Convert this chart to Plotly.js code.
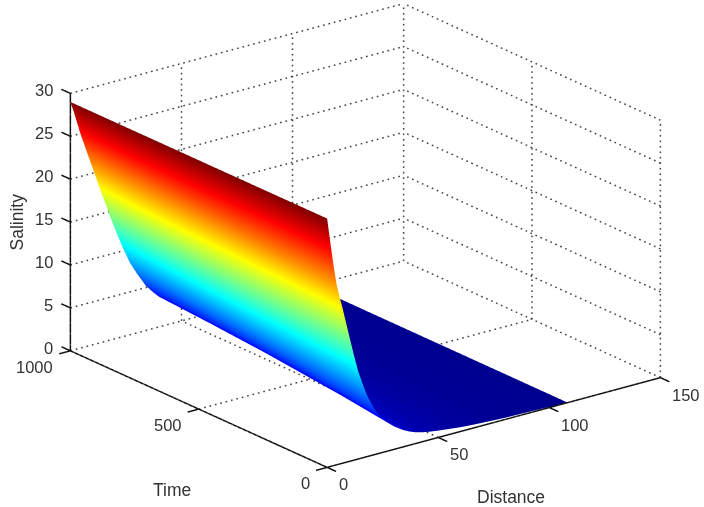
<!DOCTYPE html>
<html>
<head>
<meta charset="utf-8">
<script src="https://cdn.plot.ly/plotly-3.0.1.min.js"></script>
<style>html,body{margin:0;padding:0;background:#fff}#chart{width:704px;height:507px}</style>
</head>
<body>
<div id="chart"></div>
<script>
const distance = [0,1.5,3,4.5,7,9,12,14,16,18,21.5,24,27,30,34,37,40,43,46,50,55,60,65,72,80,108];
const time = [0,250,500,750,1000];
const salinity_t0    = [29,26,23.1,20.7,18,15.7,12.3,10.2,8.6,7.1,5.2,4.2,3.4,2.7,2.0,1.6,1.3,1.1,0.95,0.8,0.65,0.5,0.4,0.3,0.2,0.05];
const salinity_t250  = [29,26.5,24,21.8,19.3,17.1,13.9,12.0,10.4,8.9,6.8,5.6,4.6,3.7,2.8,2.3,1.85,1.55,1.3,1.1,0.85,0.65,0.5,0.36,0.22,0.06];
const salinity_t500  = [29,26.9,24.8,22.9,20.5,18.5,15.5,13.8,12.2,10.6,8.4,7.1,5.8,4.7,3.6,3.0,2.4,2.0,1.7,1.4,1.05,0.8,0.6,0.42,0.25,0.07];
const salinity_t750  = [29,27.4,25.6,24,21.7,19.9,17.1,15.6,14,12.4,10,8.6,7,5.8,4.4,3.6,3,2.5,2.1,1.75,1.25,0.95,0.7,0.48,0.28,0.08];
const salinity_t1000 = [29,27.8,26.4,25,23,21.4,19,17.4,15.9,14.3,11.8,10.1,8.3,6.9,5.2,4.3,3.5,3.0,2.6,2.1,1.5,1.15,0.85,0.55,0.3,0.1];
const distanceTicks = [0,50,100,150];
const timeTicks = [0,500,1000];
const salinityTicks = [0,5,10,15,20,25,30];
const jet = [[0,'rgb(0,0,143)'],[0.125,'rgb(0,0,255)'],[0.375,'rgb(0,255,255)'],[0.625,'rgb(255,255,0)'],[0.875,'rgb(255,0,0)'],[1,'rgb(128,0,0)']];

const dMax = distanceTicks[distanceTicks.length-1], tMax = timeTicks[timeTicks.length-1], zMax = salinityTicks[salinityTicks.length-1];
function segs(list){
  const x=[],y=[],z=[];
  list.forEach(s=>{x.push(s[0],s[3],null);y.push(s[1],s[4],null);z.push(s[2],s[5],null);});
  return {x,y,z};
}
function dotted(s,n){
  const out=[];
  for(let i=0;i<n;i++){
    const a=i/n,b=(i+0.3)/n;
    out.push([s[0]+(s[3]-s[0])*a,s[1]+(s[4]-s[1])*a,s[2]+(s[5]-s[2])*a,s[0]+(s[3]-s[0])*b,s[1]+(s[4]-s[1])*b,s[2]+(s[5]-s[2])*b]);
  }
  return out;
}
let grid=[];
const add=(s,n)=>{grid=grid.concat(dotted(s,n));};
distanceTicks.forEach(d=>{add([d,0,0,d,tMax,0],52);add([d,tMax,0,d,tMax,zMax],47);});
timeTicks.forEach(t=>{add([0,t,0,dMax,t,0],62);add([dMax,t,0,dMax,t,zMax],47);});
salinityTicks.forEach(s=>{add([0,tMax,s,dMax,tMax,s],62);add([dMax,0,s,dMax,tMax,s],52);});
const axesSegs=[[0,tMax,0,0,tMax,zMax],[0,0,0,0,tMax,0],[0,0,0,dMax,0,0]];
distanceTicks.forEach(d=>axesSegs.push([d,0,0,d,-35,0]));
timeTicks.forEach(t=>axesSegs.push([0,t,0,-5,t,0]));
salinityTicks.forEach(s=>axesSegs.push([0,tMax,s,0,tMax+35,s]));

const traces=[
  Object.assign({type:'scatter3d',mode:'lines',line:{color:'#444',width:3},hoverinfo:'skip',showlegend:false},segs(grid)),
  Object.assign({type:'scatter3d',mode:'lines',line:{color:'#111',width:3},hoverinfo:'skip',showlegend:false},segs(axesSegs)),
  {type:'surface',x:distance,y:time,z:[salinity_t0,salinity_t250,salinity_t500,salinity_t750,salinity_t1000],
   colorscale:jet,cmin:0,cmax:29,showscale:false,hoverinfo:'skip',
   lighting:{ambient:1,diffuse:0,specular:0,roughness:1,fresnel:0}}
];
const font={family:'"Liberation Sans",Arial,sans-serif',size:16.5,color:'#333'};
const titleFont={family:'"Liberation Sans",Arial,sans-serif',size:17.5,color:'#333'};
const ann=[];
salinityTicks.forEach(s=>ann.push({x:0,y:tMax,z:s,text:String(s),showarrow:false,xanchor:'right',xshift:-15,yshift:3,font}));
timeTicks.forEach(t=>ann.push({x:0,y:t,z:0,text:String(t),showarrow:false,xanchor:'right',xshift:-15,yshift:-16,font}));
distanceTicks.forEach(d=>ann.push({x:d,y:0,z:0,text:String(d),showarrow:false,xanchor:'left',xshift:10,yshift:-17,font}));
ann.push({x:0,y:tMax,z:zMax/2,text:'Salinity',showarrow:false,textangle:-90,xshift:-53,yshift:0,font:titleFont});
ann.push({x:0,y:tMax/2,z:0,text:'Time',showarrow:false,xshift:-27,yshift:-81,font:titleFont});
ann.push({x:dMax/2,y:0,z:0,text:'Distance',showarrow:false,xshift:17,yshift:-74,font:titleFont});

const axis=(range,tickvals)=>({range,tickvals,showgrid:false,zeroline:false,showline:false,showbackground:false,showspikes:false,showticklabels:false,ticks:'',title:{text:''}});
const k=1.66;
const ctr={x:-0.057,y:0.0126,z:-0.0665};
const layout={width:704,height:507,margin:{l:0,r:0,t:0,b:0},paper_bgcolor:'#fff',showlegend:false,
 scene:{domain:{x:[0,1],y:[0,1]},
  xaxis:axis([-10,160],distanceTicks),yaxis:axis([-50,1050],timeTicks),zaxis:axis([-1,31],salinityTicks),
  aspectmode:'manual',aspectratio:{x:1.133*k,y:1.1*k,z:0.6965*k},
  annotations:ann,
  camera:{projection:{type:'orthographic'},up:{x:0,y:0,z:1},center:ctr,eye:{x:-1.715+ctr.x,y:-2.227+ctr.y,z:1.049+ctr.z}}
 }};
Plotly.newPlot('chart',traces,layout,{displayModeBar:false});
</script>
</body>
</html>
